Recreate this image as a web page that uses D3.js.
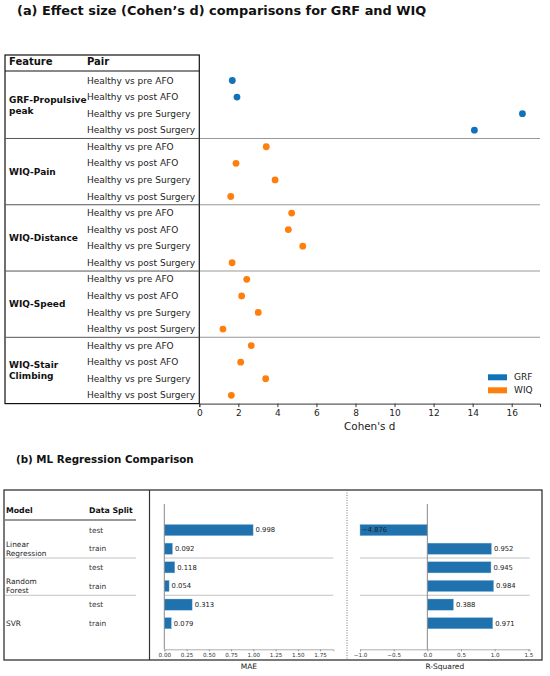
<!DOCTYPE html>
<html>
<head>
<meta charset="utf-8">
<script src="https://cdn.jsdelivr.net/npm/d3@7"></script>
<style>
  body { margin: 0; background: #fff; }
  svg { font-family: "DejaVu Sans", sans-serif; }
</style>
</head>
<body>
<div id="chart"></div>
<script>
// ---- data (a) ----
const features = ["GRF-Propulsive peak", "WIQ-Pain", "WIQ-Distance", "WIQ-Speed", "WIQ-Stair Climbing"];
const featureGroups = ["GRF", "WIQ", "WIQ", "WIQ", "WIQ"];
const pairs = ["Healthy vs pre AFO", "Healthy vs post AFO", "Healthy vs pre Surgery", "Healthy vs post Surgery"];
const grfPropulsive = [1.69, 1.93, 16.55, 14.09];
const wiqPain = [3.43, 1.88, 3.88, 1.61];
const wiqDistance = [4.73, 4.56, 5.30, 1.68];
const wiqSpeed = [2.43, 2.17, 3.02, 1.21];
const wiqStair = [2.66, 2.12, 3.40, 1.64];
const cohenTicks = [0, 2, 4, 6, 8, 10, 12, 14, 16];

// ---- data (b) ----
const models = ["Linear Regression", "Random Forest", "SVR"];
const splits = ["test", "train"];
const maeValues = [0.998, 0.092, 0.118, 0.054, 0.313, 0.079];
const r2Values = [-4.876, 0.952, 0.945, 0.984, 0.388, 0.971];
const maeTicks = [0, 0.25, 0.5, 0.75, 1.0, 1.25, 1.5, 1.75];
const r2Ticks = [-1.0, -0.5, 0.0, 0.5, 1.0, 1.5];

const colors = { GRF: "#1172b9", WIQ: "#ff7f0e" };
const barColor = "#1f72ae";

const svg = d3.select("#chart").append("svg")
    .attr("width", 550)
    .attr("height", 676);

// ================= panel (a) =================
const rows = [];
const seriesA = [grfPropulsive, wiqPain, wiqDistance, wiqSpeed, wiqStair];
features.forEach((f, fi) => {
    pairs.forEach((p, pi) => {
        rows.push({ feature: f, group: featureGroups[fi], pair: p, value: seriesA[fi][pi], fi: fi, pi: pi });
    });
});

const x = d3.scaleLinear().domain([0, 17.45]).range([199.3, 540]);
const y = d3.scaleBand().domain(d3.range(rows.length)).range([72.2, 403.6]);
const yc = (i) => y(i) + y.bandwidth() / 2;

svg.append("text")
    .attr("x", 17)
    .attr("y", 15)
    .attr("font-size", 12.9)
    .attr("font-weight", "bold")
    .attr("fill", "#111")
    .text("(a) Effect size (Cohen\u2019s d) comparisons for GRF and WIQ");

// group separators in plot
const sepIdx = d3.range(1, features.length).map(k => k * pairs.length);
svg.selectAll(".sepA")
    .data(sepIdx)
    .enter().append("line")
    .attr("x1", 199.3)
    .attr("x2", 540)
    .attr("y1", d => y(d))
    .attr("y2", d => y(d))
    .attr("stroke", "#999")
    .attr("stroke-width", 1.1);

// table
const table = svg.append("g");
table.append("rect")
    .attr("x", 5).attr("y", 55)
    .attr("width", 194.3).attr("height", 403.6 - 55)
    .attr("fill", "none")
    .attr("stroke", "#111")
    .attr("stroke-width", 1.2);
table.append("line")
    .attr("x1", 5).attr("x2", 199.3)
    .attr("y1", 71).attr("y2", 71)
    .attr("stroke", "#111").attr("stroke-width", 1);
table.selectAll(".sepT")
    .data(sepIdx)
    .enter().append("line")
    .attr("x1", 5).attr("x2", 199.3)
    .attr("y1", d => y(d)).attr("y2", d => y(d))
    .attr("stroke", "#555").attr("stroke-width", 1);

table.append("text").attr("x", 9).attr("y", 65)
    .attr("font-size", 10).attr("font-weight", "bold").attr("fill", "#111")
    .text("Feature");
table.append("text").attr("x", 87).attr("y", 65)
    .attr("font-size", 10).attr("font-weight", "bold").attr("fill", "#111")
    .text("Pair");

table.selectAll(".pair")
    .data(rows)
    .enter().append("text")
    .attr("x", 87)
    .attr("y", (d, i) => yc(i))
    .attr("dy", "0.35em")
    .attr("font-size", 9)
    .attr("fill", "#222")
    .text(d => d.pair);

features.forEach((f, fi) => {
    const lines = f.length > 12 ? [f.slice(0, f.lastIndexOf(" ")), f.slice(f.lastIndexOf(" ") + 1)] : [f];
    const mid = (yc(fi * pairs.length) + yc(fi * pairs.length + pairs.length - 1)) / 2;
    const t = table.append("text")
        .attr("font-size", 9)
        .attr("font-weight", "bold")
        .attr("fill", "#111");
    lines.forEach((ln, li) => {
        t.append("tspan")
            .attr("x", 9)
            .attr("y", mid + (li - (lines.length - 1) / 2) * 10.4)
            .attr("dy", "0.35em")
            .text(ln);
    });
});

// dots
svg.selectAll(".dot")
    .data(rows)
    .enter().append("circle")
    .attr("cx", d => x(d.value))
    .attr("cy", (d, i) => yc(i))
    .attr("r", 3.4)
    .attr("fill", d => colors[d.group]);

// x axis
const xAxis = svg.append("g")
    .attr("transform", "translate(0,403.6)")
    .call(d3.axisBottom(x).tickValues(cohenTicks).tickSize(3.5).tickPadding(2.5).tickFormat(d3.format("d")));
xAxis.select(".domain").attr("stroke", "#333").attr("stroke-width", 1);
xAxis.selectAll(".tick line").attr("stroke", "#333");
xAxis.selectAll("text").attr("font-size", 9).attr("fill", "#222").attr("font-family", "DejaVu Sans");

svg.append("text")
    .attr("x", 369.7).attr("y", 430)
    .attr("text-anchor", "middle")
    .attr("font-size", 10.4).attr("fill", "#222")
    .text("Cohen's d");

// legend
const legend = svg.append("g");
["GRF", "WIQ"].forEach((k, i) => {
    legend.append("rect")
        .attr("x", 488).attr("y", 374.3 + i * 13)
        .attr("width", 19).attr("height", 6)
        .attr("fill", colors[k]);
    legend.append("text")
        .attr("x", 514).attr("y", 377.3 + i * 13)
        .attr("dy", "0.35em")
        .attr("font-size", 9).attr("fill", "#222")
        .text(k);
});

// ================= panel (b) =================
svg.append("text")
    .attr("x", 16)
    .attr("y", 463)
    .attr("font-size", 10.3)
    .attr("font-weight", "bold")
    .attr("fill", "#111")
    .text("(b) ML Regression Comparison");

const yb = d3.scaleLinear().domain([-1.4, 6.4]).range([504, 649.3]);
const xMae = d3.scaleLinear().domain([0, 1.9]).range([164.3, 333.4]);
const xR2 = d3.scaleLinear().domain([-1, 1.52]).range([360, 529.7]).clamp(true);

const rowsB = [];
models.forEach((m, mi) => {
    splits.forEach((s, si) => {
        rowsB.push({ model: m, split: s, mae: maeValues[mi * 2 + si], r2: r2Values[mi * 2 + si] });
    });
});

// frame
svg.append("rect")
    .attr("x", 4).attr("y", 490)
    .attr("width", 538).attr("height", 170)
    .attr("fill", "none").attr("stroke", "#333").attr("stroke-width", 1.3);
svg.append("line")
    .attr("x1", 149.5).attr("x2", 149.5).attr("y1", 490).attr("y2", 660)
    .attr("stroke", "#333").attr("stroke-width", 1.2);
svg.append("line")
    .attr("x1", 347).attr("x2", 347).attr("y1", 490).attr("y2", 660)
    .attr("stroke", "#666").attr("stroke-width", 0.9).attr("stroke-dasharray", "1,1.5");

// left table
const tb = svg.append("g");
tb.append("text").attr("x", 6).attr("y", 510).attr("dy", "0.35em")
    .attr("font-size", 7.8).attr("font-weight", "bold").attr("fill", "#111").text("Model");
tb.append("text").attr("x", 89).attr("y", 510).attr("dy", "0.35em")
    .attr("font-size", 7.8).attr("font-weight", "bold").attr("fill", "#111").text("Data Split");
tb.append("line").attr("x1", 5).attr("x2", 136).attr("y1", 520).attr("y2", 520)
    .attr("stroke", "#777").attr("stroke-width", 1.3);

const sepB = d3.range(1, models.length).map(k => k * splits.length - 0.5);
tb.selectAll(".sepB")
    .data(sepB)
    .enter().append("line")
    .attr("x1", 5).attr("x2", 136)
    .attr("y1", d => yb(d)).attr("y2", d => yb(d))
    .attr("stroke", "#bbb").attr("stroke-width", 0.9);

tb.selectAll(".split")
    .data(rowsB)
    .enter().append("text")
    .attr("x", 89)
    .attr("y", (d, i) => yb(i))
    .attr("dy", "0.35em")
    .attr("font-size", 7.4).attr("fill", "#333")
    .text(d => d.split);

models.forEach((m, mi) => {
    const lines = m.split(" ");
    const mid = yb(mi * 2 + 1);
    const t = tb.append("text").attr("font-size", 7.4).attr("fill", "#222");
    lines.forEach((ln, li) => {
        t.append("tspan")
            .attr("x", 6)
            .attr("y", mid + (li - (lines.length - 1) / 2) * 9.4)
            .attr("dy", "0.35em")
            .text(ln);
    });
});

function barPanel(xs, key, ticks, fmt, label, zero) {
    const g = svg.append("g");
    const [r0, r1] = xs.range();
    g.selectAll(".sep")
        .data(sepB)
        .enter().append("line")
        .attr("x1", r0).attr("x2", r1)
        .attr("y1", d => yb(d)).attr("y2", d => yb(d))
        .attr("stroke", "#bbb").attr("stroke-width", 0.9);

    g.selectAll(".bar")
        .data(rowsB)
        .enter().append("rect")
        .attr("x", d => Math.min(xs(0), xs(d[key])))
        .attr("y", (d, i) => yb(i - 0.3))
        .attr("width", d => Math.abs(xs(d[key]) - xs(0)))
        .attr("height", yb(0.3) - yb(-0.3))
        .attr("fill", barColor)
        .attr("stroke", "#8fbbe0")
        .attr("stroke-width", 0.4);

    g.selectAll(".val")
        .data(rowsB)
        .enter().append("text")
        .attr("x", d => d[key] < 0 ? xs(d[key]) + 2 : xs(d[key]) + 2.5)
        .attr("y", (d, i) => yb(i))
        .attr("dy", "0.35em")
        .attr("font-size", 6.8)
        .attr("fill", "#222")
        .text(d => d3.format(".3f")(d[key]).replace("-", "\u2212"));

    g.append("line")
        .attr("x1", xs(zero)).attr("x2", xs(zero))
        .attr("y1", 504).attr("y2", 649.3)
        .attr("stroke", "#888").attr("stroke-width", 1);

    const ax = g.append("g")
        .attr("transform", "translate(0,649.3)")
        .call(d3.axisBottom(xs).tickValues(ticks).tickSize(2).tickPadding(1.5).tickFormat(fmt));
    ax.select(".domain").attr("stroke", "#999").attr("stroke-width", 0.8);
    ax.selectAll(".tick line").attr("stroke", "#999");
    ax.selectAll("text").attr("font-size", 5.6).attr("fill", "#333").attr("font-family", "DejaVu Sans");

    g.append("text")
        .attr("x", (r0 + r1) / 2).attr("y", 666)
        .attr("dy", "0.35em")
        .attr("text-anchor", "middle")
        .attr("font-size", 7.5).attr("fill", "#222")
        .text(label);
}

barPanel(xMae, "mae", maeTicks, d3.format(".2f"), "MAE", 0);
barPanel(xR2, "r2", r2Ticks, d => d3.format(".1f")(d).replace("-", "\u2212"), "R-Squared", 0);
</script>
</body>
</html>
